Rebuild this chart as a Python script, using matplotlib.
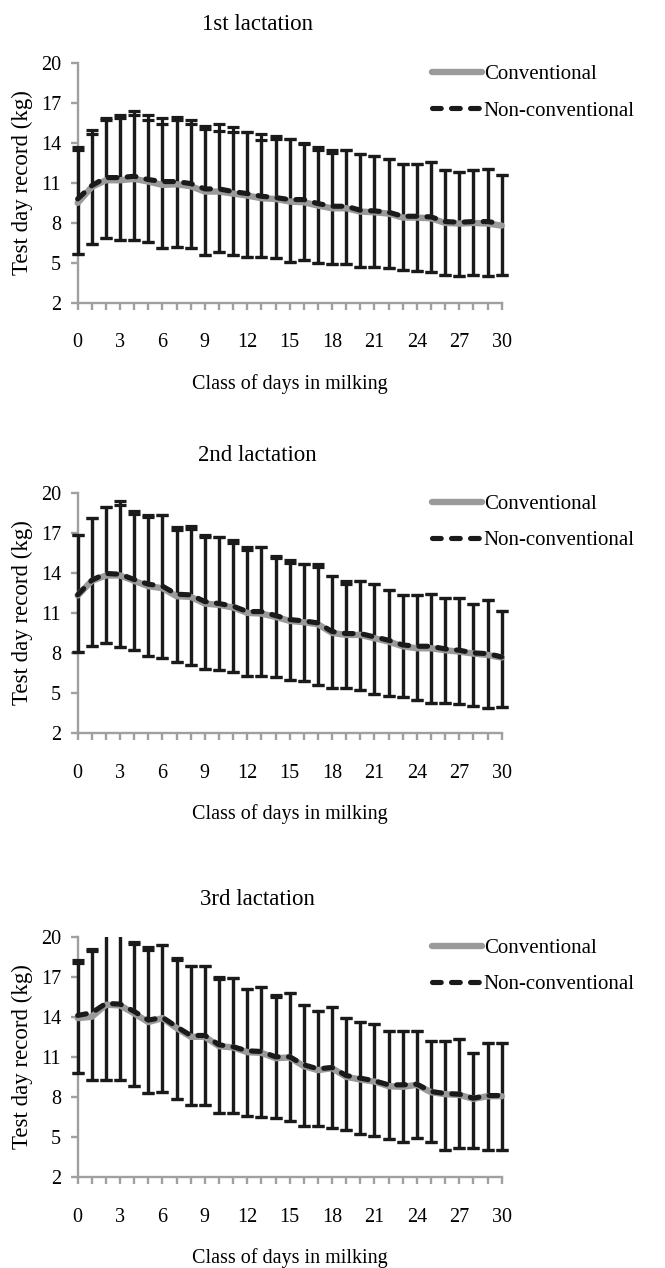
import numpy as np
import matplotlib
matplotlib.use('Agg')
import matplotlib.pyplot as plt
from matplotlib.lines import Line2D
from matplotlib.patches import Rectangle

plt.rcParams['font.family'] = ['Liberation Serif', 'DejaVu Serif']

days = np.arange(0, 31)

titles = ["1st lactation", "2nd lactation", "3rd lactation"]
series_names = ["Conventional", "Non-conventional"]

# 1st lactation
conv_1 = [9.5, 10.7, 11.2, 11.2, 11.3, 11.1, 10.85, 10.9, 10.75, 10.35, 10.35, 10.2, 10.05, 9.85, 9.8, 9.6,
          9.55, 9.3, 9.1, 9.1, 8.85, 8.8, 8.7, 8.4, 8.4, 8.35, 8.0, 7.95, 8.0, 7.95, 7.8]
nonconv_1 = [9.8, 10.8, 11.4, 11.4, 11.5, 11.25, 11.1, 11.1, 10.95, 10.55, 10.55, 10.35, 10.2, 10.0, 9.9, 9.75,
             9.75, 9.45, 9.25, 9.25, 8.95, 8.9, 8.8, 8.5, 8.5, 8.45, 8.1, 8.05, 8.1, 8.1, 7.95]
conv_hi_1 = [13.45, 14.7, 15.7, 15.85, 16.1, 15.72, 15.42, 15.72, 15.42, 15.03, 14.92, 14.85, 14.8, 14.22, 14.27, 14.27,
             13.9, 13.5, 13.25, 13.45, 13.15, 13.05, 12.8, 12.4, 12.4, 12.55, 11.95, 11.8, 11.95, 12.05, 11.6]
nonconv_hi_1 = [13.72, 14.97, 15.85, 16.1, 16.4, 16.1, 15.85, 15.97, 15.72, 15.3, 15.42, 15.2, 14.8, 14.65, 14.55, 14.27,
                14.0, 13.7, 13.45, 13.45, 13.15, 13.05, 12.8, 12.4, 12.4, 12.55, 11.95, 11.8, 11.95, 12.05, 11.6]
lo_1 = [5.7, 6.4, 6.9, 6.7, 6.7, 6.6, 6.1, 6.2, 6.1, 5.6, 5.8, 5.6, 5.45, 5.45, 5.4, 5.05,
        5.25, 5.0, 4.9, 4.9, 4.7, 4.7, 4.6, 4.45, 4.4, 4.35, 4.1, 4.05, 4.1, 4.0, 4.1]

# 2nd lactation
conv_2 = [12.3, 13.4, 13.8, 13.8, 13.4, 13.0, 12.85, 12.25, 12.2, 11.7, 11.6, 11.4, 11.0, 10.95, 10.7, 10.4,
          10.3, 10.15, 9.5, 9.35, 9.35, 9.1, 8.85, 8.5, 8.35, 8.35, 8.2, 8.1, 7.95, 7.85, 7.65]
nonconv_2 = [12.35, 13.45, 13.95, 13.9, 13.5, 13.15, 13.0, 12.4, 12.35, 11.85, 11.7, 11.5, 11.1, 11.1, 10.8, 10.5,
             10.4, 10.25, 9.6, 9.45, 9.45, 9.2, 8.95, 8.6, 8.5, 8.5, 8.3, 8.2, 8.0, 7.95, 7.7]
conv_hi_2 = [16.85, 18.1, 18.9, 19.08, 18.4, 18.15, 18.3, 17.2, 17.3, 16.65, 16.7, 16.2, 15.7, 15.9, 15.1, 14.75,
             14.65, 14.45, 13.75, 13.2, 13.4, 13.2, 12.75, 12.35, 12.35, 12.4, 12.1, 12.1, 11.7, 11.95, 11.15]
nonconv_hi_2 = [16.85, 18.1, 18.9, 19.4, 18.65, 18.3, 18.3, 17.4, 17.5, 16.85, 16.7, 16.45, 15.9, 15.9, 15.25, 14.95,
                14.65, 14.65, 13.75, 13.4, 13.4, 13.2, 12.75, 12.35, 12.35, 12.4, 12.1, 12.1, 11.7, 11.95, 11.15]
lo_2 = [8.05, 8.5, 8.75, 8.45, 8.25, 7.8, 7.6, 7.3, 7.1, 6.8, 6.7, 6.55, 6.3, 6.25, 6.2, 6.0,
        5.9, 5.6, 5.4, 5.4, 5.2, 4.95, 4.8, 4.7, 4.45, 4.25, 4.25, 4.2, 4.05, 3.85, 3.95]

# 3rd lactation
conv_3 = [13.9, 14.0, 14.9, 14.85, 14.25, 13.6, 13.9, 13.15, 12.5, 12.5, 11.8, 11.7, 11.35, 11.3, 10.9, 10.95,
          10.3, 10.0, 10.15, 9.5, 9.3, 9.15, 8.8, 8.75, 8.9, 8.35, 8.2, 8.15, 7.85, 8.05, 8.05]
nonconv_3 = [14.1, 14.3, 15.0, 14.95, 14.4, 13.75, 13.95, 13.25, 12.6, 12.6, 11.9, 11.75, 11.45, 11.4, 11.0, 11.0,
             10.4, 10.1, 10.2, 9.6, 9.4, 9.2, 8.9, 8.9, 8.95, 8.4, 8.25, 8.2, 7.9, 8.1, 8.1]
conv_hi_3 = [18.05, 18.95, 20.8, 20.6, 19.45, 19.0, 19.4, 18.25, 17.8, 17.8, 16.8, 16.9, 16.05, 16.25, 15.45, 15.75,
             14.9, 14.4, 14.75, 13.9, 13.6, 13.45, 12.9, 12.95, 12.95, 12.2, 12.2, 12.3, 11.3, 12.0, 12.0]
nonconv_hi_3 = [18.25, 19.1, 20.8, 20.6, 19.6, 19.2, 19.4, 18.4, 17.8, 17.8, 17.0, 16.9, 16.05, 16.25, 15.6, 15.75,
                14.9, 14.4, 14.75, 13.9, 13.6, 13.45, 12.9, 12.95, 12.95, 12.2, 12.2, 12.3, 11.3, 12.0, 12.0]
lo_3 = [9.8, 9.25, 9.3, 9.25, 8.85, 8.3, 8.35, 7.85, 7.4, 7.4, 6.8, 6.8, 6.6, 6.5, 6.4, 6.2,
        5.85, 5.85, 5.7, 5.5, 5.2, 5.1, 4.85, 4.6, 4.9, 4.6, 4.05, 4.2, 4.2, 4.05, 4.05]

panels = [
    (conv_1, nonconv_1, conv_hi_1, nonconv_hi_1, lo_1),
    (conv_2, nonconv_2, conv_hi_2, nonconv_hi_2, lo_2),
    (conv_3, nonconv_3, conv_hi_3, nonconv_hi_3, lo_3),
]

GRAY = '#9a9a9a'
AXIS_GRAY = '#a0a0a0'
BLACK = '#1a1a1a'
DASH = (0, (1.7, 2.0))

fig = plt.figure(figsize=(6.65, 12.68), dpi=100)

# axes rectangles in figure fraction (left, bottom, width, height)
ax_rects = [
    (0.1168, 0.7611, 0.6376, 0.1893),
    (0.1168, 0.4219, 0.6376, 0.1895),
    (0.1168, 0.0718, 0.6376, 0.1895),
]
title_y = [0.9803, 0.6408, 0.2906]


def clip_errorbars(container, clip_rect):
    # clip only at the top/bottom of the plot area, so end bars keep full width
    for artist in list(container.lines[1]) + list(container.lines[2]):
        artist.set_clip_path(clip_rect)


for i, (rect, data) in enumerate(zip(ax_rects, panels)):
    conv, nonconv, conv_hi, nonconv_hi, lo = [np.array(d) for d in data]
    ax = fig.add_axes(rect)
    clip_rect = Rectangle((-0.05, 0.0), 1.1, 1.0, transform=ax.transAxes,
                          facecolor='none', edgecolor='none')

    # error bars (conventional first, then non-conventional)
    eb1 = ax.errorbar(days, conv, yerr=[conv - lo, conv_hi - conv], fmt='none',
                      ecolor=BLACK, elinewidth=2.3, capsize=4.3, capthick=2.3, zorder=2)
    eb2 = ax.errorbar(days, nonconv, yerr=[nonconv - lo, nonconv_hi - nonconv], fmt='none',
                      ecolor=BLACK, elinewidth=2.3, capsize=4.3, capthick=2.3, zorder=2)
    clip_errorbars(eb1, clip_rect)
    clip_errorbars(eb2, clip_rect)

    ax.plot(days, conv, color=GRAY, linewidth=4.6, solid_joinstyle='round',
            solid_capstyle='round', zorder=3, clip_on=False)
    ax.plot(days, nonconv, color=BLACK, linewidth=3.7, linestyle=DASH,
            dash_capstyle='round', dash_joinstyle='round', zorder=4, clip_on=False)

    ax.set_xlim(0, 30)
    ax.set_ylim(2, 20)
    ax.set_xticks(np.arange(0, 31, 3))
    ax.set_xticks(days, minor=True)
    ax.set_yticks([2, 5, 8, 11, 14, 17, 20])

    for side in ['top', 'right']:
        ax.spines[side].set_visible(False)
    for side in ['left', 'bottom']:
        ax.spines[side].set_color(AXIS_GRAY)
        ax.spines[side].set_linewidth(1.7)
        ax.spines[side].set_zorder(1)

    ax.tick_params(axis='both', which='both', direction='out', color=AXIS_GRAY,
                   width=1.7, length=5, labelsize=14.5, labelcolor='black')
    ax.tick_params(axis='x', which='both', pad=17)
    ax.tick_params(axis='y', pad=7)

    ax.set_ylabel("Test day record (kg)", fontsize=16.5)
    ax.yaxis.set_label_coords(-0.105, 0.5)
    ax.set_xlabel("Class of days in milking", fontsize=14.5)
    ax.xaxis.set_label_coords(0.5, -0.295)

    handles = [
        Line2D([], [], color=GRAY, linewidth=4.6, solid_capstyle='round'),
        Line2D([], [], color=BLACK, linewidth=3.7, linestyle=DASH,
               dash_capstyle='round'),
    ]
    ax.legend(handles, series_names, loc='center left', bbox_to_anchor=(0.835, 0.876),
              frameon=False, fontsize=15, handlelength=2.4, handletextpad=0.1,
              labelspacing=0.8, borderpad=0, borderaxespad=0)

    fig.text(0.387, title_y[i], titles[i], ha='center', va='center', fontsize=16.5)

fig.savefig('out.png', dpi=100)
